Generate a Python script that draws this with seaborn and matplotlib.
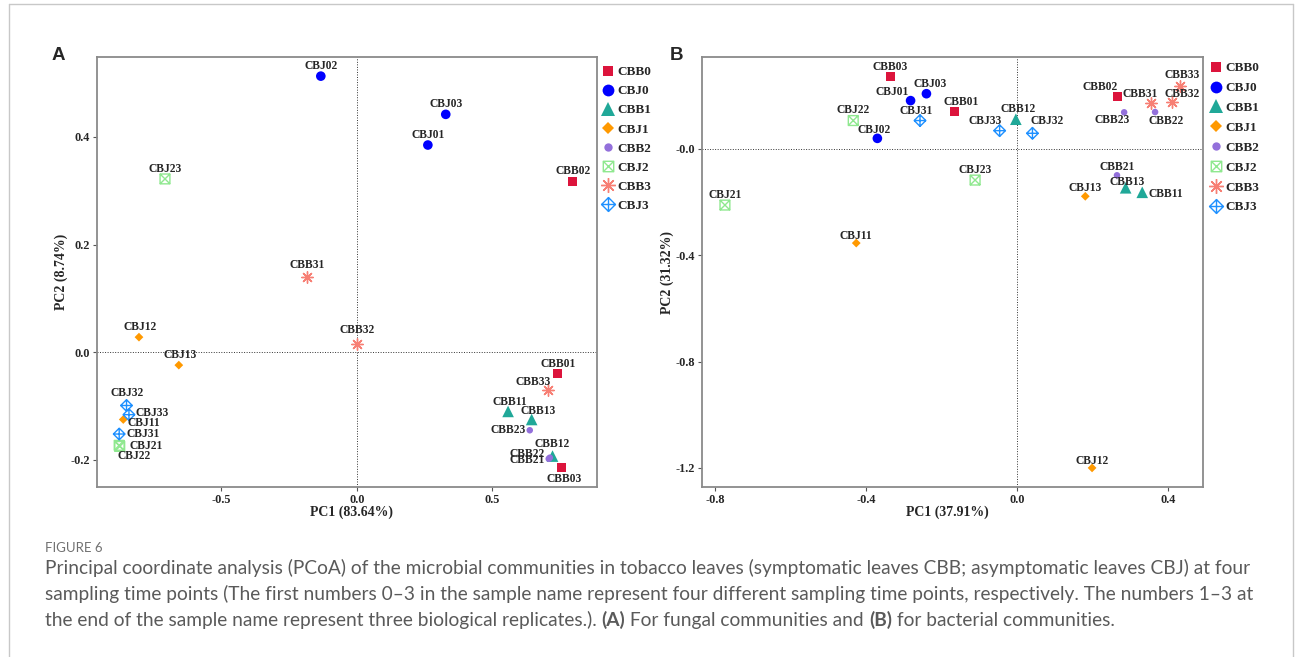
import matplotlib
matplotlib.use("Agg")
import matplotlib.pyplot as plt
from matplotlib.path import Path
from matplotlib.lines import Line2D
from matplotlib.ticker import FixedLocator, FixedFormatter
import pandas as pd
import seaborn as sns

W, H = 1295, 657

# ---------------------------------------------------------------- data
groups = ["CBB0", "CBJ0", "CBB1", "CBJ1", "CBB2", "CBJ2", "CBB3", "CBJ3"]

# (A) fungal communities
fungal_samples = ["CBJ02", "CBJ03", "CBJ01", "CBB02", "CBJ23", "CBB31", "CBB32",
                  "CBJ12", "CBJ13", "CBB01", "CBB33", "CBB11", "CBB13", "CBB23",
                  "CBB12", "CBB22", "CBB21", "CBB03", "CBJ32", "CBJ33", "CBJ11",
                  "CBJ31", "CBJ21", "CBJ22"]
fungal_pc1 = [-0.133, 0.328, 0.262, 0.797, -0.708, -0.185, 0.000,
              -0.804, -0.657, 0.739, 0.706, 0.558, 0.645, 0.638,
              0.722, 0.712, 0.708, 0.755, -0.850, -0.841, -0.862,
              -0.877, -0.877, -0.875]
fungal_pc2 = [0.513, 0.442, 0.385, 0.318, 0.322, 0.139, 0.015,
              0.028, -0.024, -0.039, -0.071, -0.110, -0.125, -0.145,
              -0.193, -0.196, -0.198, -0.215, -0.099, -0.116, -0.125,
              -0.152, -0.173, -0.175]
fungal_xlabel = "PC1 (83.64%)"
fungal_ylabel = "PC2 (8.74%)"
fungal_xticks = [-0.5, 0.0, 0.5]
fungal_xtick_labels = ["-0.5", "0.0", "0.5"]
fungal_yticks = [-0.2, 0.0, 0.2, 0.4]
fungal_ytick_labels = ["-0.2", "0.0", "0.2", "0.4"]

# (B) bacterial communities
bacterial_samples = ["CBB03", "CBJ03", "CBJ01", "CBB01", "CBJ22", "CBJ31", "CBJ02",
                     "CBJ33", "CBB12", "CBJ32", "CBB02", "CBB31", "CBB33", "CBB32",
                     "CBB23", "CBB22", "CBB21", "CBB13", "CBB11", "CBJ13", "CBJ23",
                     "CBJ21", "CBJ11", "CBJ12"]
bacterial_pc1 = [-0.336, -0.240, -0.282, -0.166, -0.434, -0.257, -0.370,
                 -0.046, -0.003, 0.041, 0.267, 0.354, 0.432, 0.410,
                 0.284, 0.366, 0.265, 0.288, 0.332, 0.181, -0.111,
                 -0.774, -0.426, 0.199]
bacterial_pc2 = [0.273, 0.208, 0.182, 0.140, 0.107, 0.107, 0.040,
                 0.069, 0.112, 0.059, 0.196, 0.173, 0.238, 0.177,
                 0.138, 0.139, -0.099, -0.146, -0.163, -0.178, -0.117,
                 -0.211, -0.354, -1.200]
bacterial_xlabel = "PC1 (37.91%)"
bacterial_ylabel = "PC2 (31.32%)"
bacterial_xticks = [-0.8, -0.4, 0.0, 0.4]
bacterial_xtick_labels = ["-0.8", "-0.4", "0.0", "0.4"]
bacterial_yticks = [-1.2, -0.8, -0.4, 0.0]
bacterial_ytick_labels = ["-1.2", "-0.8", "-0.4", "-0.0"]

caption_title = "FIGURE 6"
caption_lines = [
    "Principal coordinate analysis (PCoA) of the microbial communities in tobacco leaves "
    "(symptomatic leaves CBB; asymptomatic leaves CBJ) at four",
    "sampling time points (The first numbers 0\u20133 in the sample name represent four "
    "different sampling time points, respectively. The numbers 1\u20133 at",
]
caption_last = [("the end of the sample name represent three biological replicates.). ", "normal"),
                ("(A)", "bold"),
                (" For fungal communities and ", "normal"),
                ("(B)", "bold"),
                (" for bacterial communities.", "normal")]

# ---------------------------------------------------------------- styling
sns.set_theme(style="white")
plt.rcParams["font.family"] = ["Liberation Serif", "DejaVu Serif"]
plt.rcParams["font.weight"] = "bold"
plt.rcParams["axes.labelweight"] = "bold"


def square_cross():
    v = [(-1, -1), (1, -1), (1, 1), (-1, 1), (-1, -1),
         (-1, -1), (1, 1), (-1, 1), (1, -1)]
    c = [Path.MOVETO, Path.LINETO, Path.LINETO, Path.LINETO, Path.CLOSEPOLY,
         Path.MOVETO, Path.LINETO, Path.MOVETO, Path.LINETO]
    return Path(v, c)


def diamond_plus():
    v = [(0, -1), (1, 0), (0, 1), (-1, 0), (0, -1),
         (-1, 0), (1, 0), (0, -1), (0, 1)]
    c = [Path.MOVETO, Path.LINETO, Path.LINETO, Path.LINETO, Path.CLOSEPOLY,
         Path.MOVETO, Path.LINETO, Path.MOVETO, Path.LINETO]
    return Path(v, c)


# marker, colour, scatter size, kind, legend size
styles = {
    "CBB0": ("s", "#DC143C", 42, "filled", 7.5),
    "CBJ0": ("o", "#0000FF", 48, "filled", 8.5),
    "CBB1": ("^", "#20A898", 70, "filled", 10.5),
    "CBJ1": ("D", "#FF9900", 20, "filled", 6.0),
    "CBB2": ("o", "#9370DB", 22, "filled", 6.0),
    "CBJ2": (square_cross(), "#8FE88F", 50, "outline", 7.5),
    "CBB3": ((8, 2, 0), "#F77F74", 68, "lines", 10.5),
    "CBJ3": (diamond_plus(), "#1E90FF", 70, "outline", 10.0),
}

# label offsets in pixels (dx, dy, ha); default is centred just above the point
fungal_label_pos = {
    "CBB31": (0, 12, "center"), "CBB32": (0, 14, "center"),
    "CBJ12": (1, 10, "center"), "CBJ13": (1, 10, "center"),
    "CBB01": (1, 9, "center"), "CBB33": (-15, 8, "center"),
    "CBB11": (2, 9, "center"), "CBB13": (6, 8, "center"),
    "CBB23": (-4, 0, "right"), "CBB12": (0, 12, "center"),
    "CBB22": (-5, 4, "right"), "CBB21": (-4, -1, "right"),
    "CBB03": (3, -11, "center"), "CBJ32": (1, 12, "center"),
    "CBJ33": (7, 2, "left"), "CBJ11": (4, -4, "left"),
    "CBJ31": (7, 0, "left"), "CBJ21": (10, -1, "left"),
    "CBJ22": (14, -10, "center"),
}
bacterial_label_pos = {
    "CBB03": (0, 9, "center"), "CBJ03": (4, 10, "center"),
    "CBJ01": (-18, 9, "center"), "CBB01": (7, 10, "center"),
    "CBJ22": (0, 11, "center"), "CBJ31": (-4, 10, "center"),
    "CBJ02": (-3, 8, "center"), "CBJ33": (-15, 10, "center"),
    "CBB12": (2, 10, "center"), "CBJ32": (15, 12, "center"),
    "CBB02": (-18, 10, "center"), "CBB31": (-10, 9, "center"),
    "CBB33": (2, 11, "center"), "CBB32": (10, 8, "center"),
    "CBB23": (-12, -8, "center"), "CBB22": (11, -9, "center"),
    "CBB21": (0, 8, "center"), "CBB13": (1, 6, "center"),
    "CBB11": (6, -2, "left"), "CBJ13": (0, 8, "center"),
    "CBJ11": (0, 7, "center"), "CBJ12": (0, 7, "center"),
}

fig = plt.figure(figsize=(W / 100, H / 100), dpi=100)


def px_axes(x0, y0, x1, y1):
    return fig.add_axes([x0 / W, 1 - y1 / H, (x1 - x0) / W, (y1 - y0) / H])


def draw_panel(ax, samples, pc1, pc2, label_pos, xlim, ylim,
               xticks, xtl, yticks, ytl, xlabel, ylabel, xlab_pos, ylab_pos):
    df = pd.DataFrame({"sample": samples, "PC1": pc1, "PC2": pc2})
    df["group"] = df["sample"].str[:4]
    ax.axhline(0, color="#333333", lw=0.7, ls=(0, (1, 1.6)), zorder=1)
    ax.axvline(0, color="#333333", lw=0.7, ls=(0, (1, 1.6)), zorder=1)
    for g in groups:
        sub = df[df["group"] == g]
        m, col, s, kind, _ = styles[g]
        if kind == "filled":
            sns.scatterplot(data=sub, x="PC1", y="PC2", marker=m, color=col, s=s,
                            edgecolor="none", linewidth=0, ax=ax, zorder=3)
        elif kind == "outline":
            sns.scatterplot(data=sub, x="PC1", y="PC2", marker=m, s=s,
                            facecolor="none", edgecolor=col, linewidth=1.0,
                            ax=ax, zorder=3)
        else:
            sns.scatterplot(data=sub, x="PC1", y="PC2", marker=m, s=s,
                            color=col, linewidth=1.0, ax=ax, zorder=3)
    for name, x, y in zip(df["sample"], df["PC1"], df["PC2"]):
        dx, dy, ha = label_pos.get(name, (0, 10, "center"))
        ax.annotate(name, (x, y), xytext=(dx, dy), textcoords="offset pixels",
                    ha=ha, va="center", fontsize=8.3, fontweight="bold", zorder=4)
    ax.set_xlim(*xlim)
    ax.set_ylim(*ylim)
    ax.xaxis.set_major_locator(FixedLocator(xticks))
    ax.xaxis.set_major_formatter(FixedFormatter(xtl))
    ax.yaxis.set_major_locator(FixedLocator(yticks))
    ax.yaxis.set_major_formatter(FixedFormatter(ytl))
    ax.tick_params(axis="both", which="major", direction="out", length=3, width=0.8,
                   color="#555555", labelsize=8.8, pad=2, bottom=True, left=True)
    for lab in ax.get_xticklabels() + ax.get_yticklabels():
        lab.set_fontweight("bold")
    for sp in ax.spines.values():
        sp.set_color("#8a8a8a")
        sp.set_linewidth(1.3)
        sp.set_visible(True)
    ax.set_xlabel(xlabel, fontsize=10, fontweight="bold")
    ax.set_ylabel(ylabel, fontsize=10, fontweight="bold")
    ax.xaxis.set_label_coords(*xlab_pos)
    ax.yaxis.set_label_coords(*ylab_pos)
    ax.grid(False)
    ax.set_facecolor("white")


axA = px_axes(96.7, 57.3, 596.7, 487.3)
draw_panel(axA, fungal_samples, fungal_pc1, fungal_pc2, fungal_label_pos,
           (-0.960, 0.885), (-0.251, 0.548),
           fungal_xticks, fungal_xtick_labels, fungal_yticks, fungal_ytick_labels,
           fungal_xlabel, fungal_ylabel, (0.51, -0.043), (-0.057, 0.5))

axB = px_axes(702.3, 57.3, 1203.0, 487.3)
draw_panel(axB, bacterial_samples, bacterial_pc1, bacterial_pc2, bacterial_label_pos,
           (-0.834, 0.493), (-1.273, 0.345),
           bacterial_xticks, bacterial_xtick_labels, bacterial_yticks, bacterial_ytick_labels,
           bacterial_xlabel, bacterial_ylabel, (0.49, -0.043), (-0.057, 0.5))


def legend_handles():
    hs = []
    for g in groups:
        m, col, _, kind, ms = styles[g]
        if kind == "filled":
            hs.append(Line2D([], [], ls="none", marker=m, color=col, markersize=ms,
                             markeredgewidth=0))
        elif kind == "outline":
            hs.append(Line2D([], [], ls="none", marker=m, color=col, markersize=ms,
                             markerfacecolor="none", markeredgewidth=1.0))
        else:
            hs.append(Line2D([], [], ls="none", marker=m, color=col, markersize=ms,
                             markeredgewidth=1.0))
    return hs


for ax, lx, ly, sp in ((axA, 602, 66, 0.52), (axB, 1210, 62, 0.58)):
    ax.legend(handles=legend_handles(), labels=groups, loc="upper left",
              bbox_to_anchor=(lx / W, 1 - ly / H), bbox_transform=fig.transFigure,
              frameon=False, prop={"family": "Liberation Serif", "weight": "bold", "size": 9.5},
              handlelength=0.9, handletextpad=0.25, labelspacing=sp,
              borderaxespad=0, borderpad=0)

# panel letters
for letter, x, y in (("A", 58, 55), ("B", 676, 56)):
    fig.text(x / W, 1 - y / H, letter, fontsize=13.5, fontweight="bold",
             family="Liberation Sans", ha="center", va="center")

# outer frame of the figure block
frame_kw = dict(color="#c8c8c8", lw=1.0, transform=fig.transFigure)
fig.add_artist(Line2D([9 / W, 9 / W], [0, 1 - 4 / H], **frame_kw))
fig.add_artist(Line2D([9 / W, 1293 / W], [1 - 4 / H, 1 - 4 / H], **frame_kw))
fig.add_artist(Line2D([1293 / W, 1293 / W], [0, 1 - 4 / H], **frame_kw))

# caption
cap_font = "Lato"
cap_color = "#5a5a5a"
fig.text(45 / W, 1 - 552 / H, caption_title, fontsize=9.5, color="#707070",
         family=cap_font, fontweight="normal", va="baseline", ha="left")

fig.canvas.draw()
renderer = fig.canvas.get_renderer()
probe = fig.text(0, 0, caption_lines[0], fontsize=12, family=cap_font,
                 fontweight="normal")
w12 = probe.get_window_extent(renderer).width
probe.remove()
cap_size = 12 * (1248 - 45) / w12

for line, y in zip(caption_lines, (574, 600)):
    fig.text(45 / W, 1 - y / H, line, fontsize=cap_size, family=cap_font,
             fontweight="normal", color=cap_color, va="baseline", ha="left")

x = 45.0
for piece, wt in caption_last:
    t = fig.text(x / W, 1 - 626 / H, piece, fontsize=cap_size, family=cap_font,
                 fontweight=wt, color=cap_color, va="baseline", ha="left")
    x += t.get_window_extent(renderer).width

fig.savefig("out.png", dpi=100, facecolor="white")
